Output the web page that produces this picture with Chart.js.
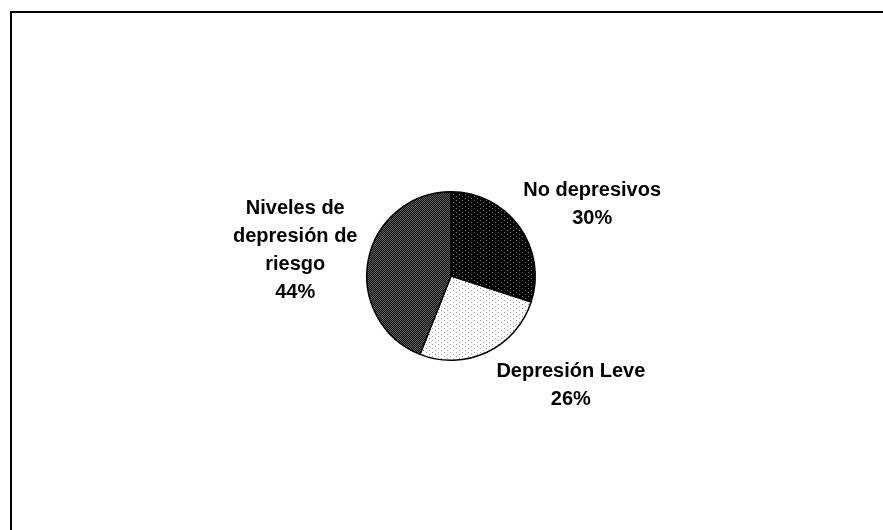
<!DOCTYPE html>
<html>
<head>
<meta charset="utf-8">
<script src="https://cdn.jsdelivr.net/npm/chart.js@4"></script>
<style>
    html, body { margin: 0; padding: 0; background: #fff; }
    #wrap { width: 883px; height: 530px; position: relative; }
</style>
</head>
<body>
<div id="wrap"><canvas id="pieChart"></canvas></div>
<script>
// Category names (one entry per line of the label) and their shares in %
const categories = [
    ['No depresivos'],
    ['Depresión Leve'],
    ['Niveles de', 'depresión de', 'riesgo']
];
const shares = [30, 26, 44];

// Small bitmap fills, like the old office chart patterns
function makePattern(w, h, bg, dot, dots) {
    const c = document.createElement('canvas');
    c.width = w;
    c.height = h;
    const g = c.getContext('2d');
    g.fillStyle = bg;
    g.fillRect(0, 0, w, h);
    g.fillStyle = dot;
    dots.forEach(([x, y]) => g.fillRect(x, y, 1, 1));
    return g.createPattern(c, 'repeat');
}

const ctx = document.getElementById('pieChart').getContext('2d');
const fills = [
    makePattern(6, 4, '#000000', '#7a7a7a', [[0, 0], [3, 2]]),
    makePattern(6, 4, '#ffffff', '#9a9a9a', [[0, 0], [3, 2]]),
    makePattern(2, 2, '#141414', '#5c5c5c', [[0, 0], [1, 1]])
];

// Frame around the chart area
const framePlugin = {
    id: 'frame',
    beforeDraw(chart) {
        const g = chart.ctx;
        g.save();
        g.strokeStyle = '#000';
        g.lineWidth = 2;
        g.strokeRect(11, 12, chart.width + 20, chart.height + 20);
        g.restore();
    }
};

// Category name + percentage placed outside each slice
const sliceLabels = {
    id: 'sliceLabels',
    afterDatasetsDraw(chart, args, opts) {
        const g = chart.ctx;
        const meta = chart.getDatasetMeta(0);
        g.save();
        g.fillStyle = '#000';
        g.font = 'bold 20px "Liberation Sans", Arial, sans-serif';
        g.textAlign = 'center';
        g.textBaseline = 'alphabetic';
        meta.data.forEach((arc, i) => {
            const p = arc.getProps(['x', 'y', 'startAngle', 'endAngle', 'outerRadius'], true);
            const mid = (p.startAngle + p.endAngle) / 2;
            const ex = p.x + Math.cos(mid) * p.outerRadius;
            const ey = p.y + Math.sin(mid) * p.outerRadius;
            const [dx, dy] = opts.offsets[i];
            const lines = chart.data.labels[i].concat([chart.data.datasets[0].data[i] + '%']);
            lines.forEach((line, k) => {
                g.fillText(line, ex + dx, ey + dy + k * opts.lineHeight);
            });
        });
        g.restore();
    }
};

new Chart(ctx, {
    type: 'pie',
    data: {
        labels: categories,
        datasets: [{
            data: shares,
            backgroundColor: fills,
            borderColor: '#000',
            borderWidth: 1.5
        }]
    },
    options: {
        responsive: true,
        maintainAspectRatio: false,
        animation: false,
        layout: {
            padding: { left: 366, right: 347, top: 191, bottom: 169 }
        },
        plugins: {
            legend: { display: false },
            tooltip: { enabled: false },
            sliceLabels: {
                lineHeight: 28,
                offsets: [[73, -30], [84, 25], [-73, -46]]
            }
        }
    },
    plugins: [framePlugin, sliceLabels]
});
</script>
</body>
</html>
